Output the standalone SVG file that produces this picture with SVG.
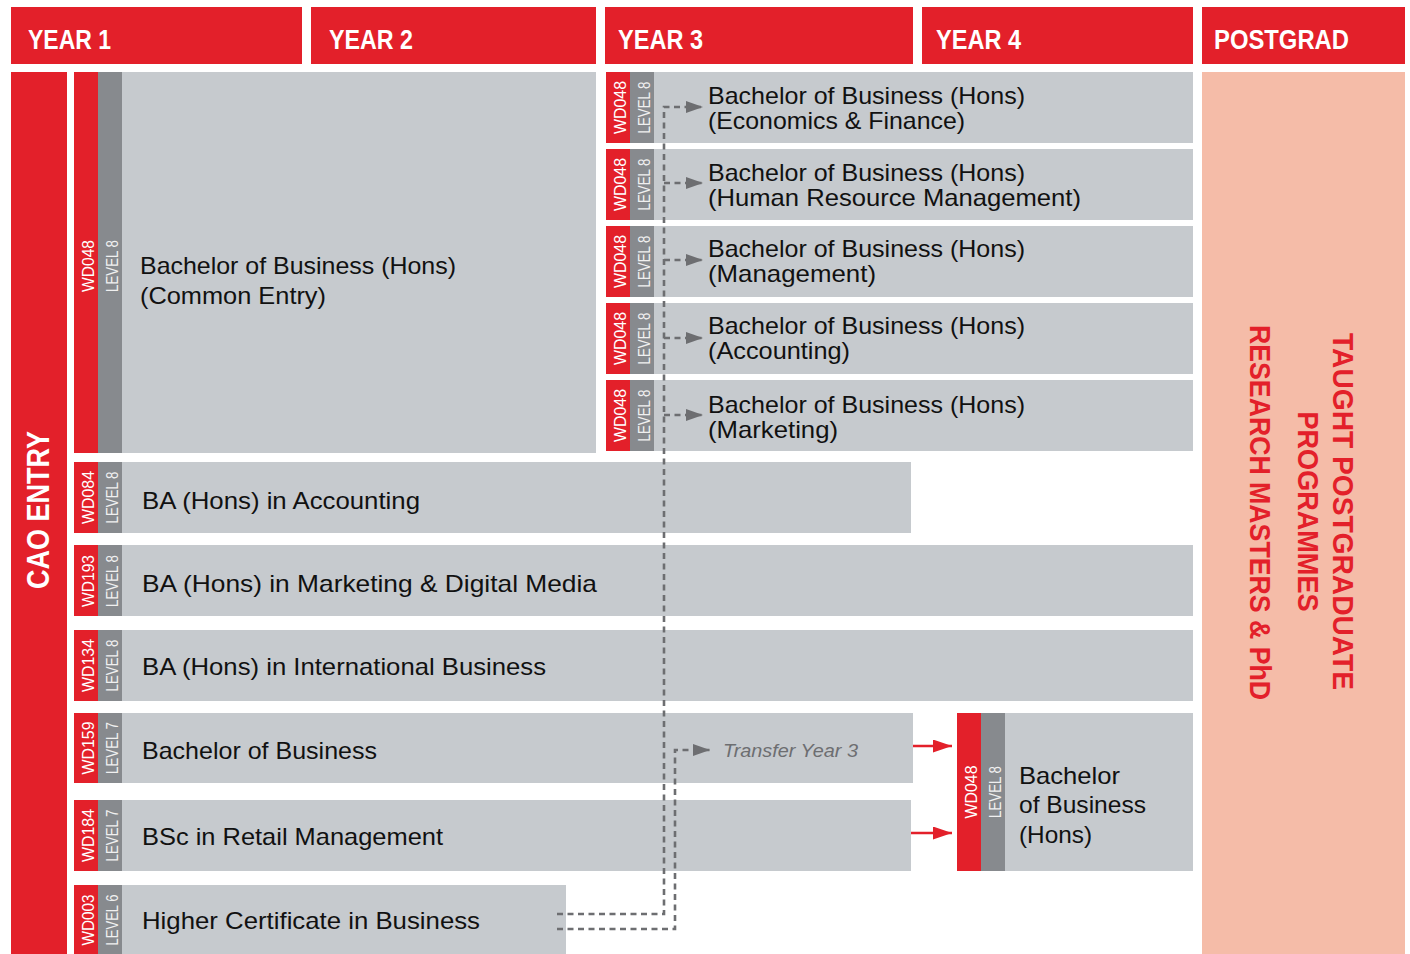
<svg xmlns="http://www.w3.org/2000/svg" width="1410" height="954" viewBox="0 0 1410 954">
  <style>
    .hdr { fill: #E3202A; }
    .hdr-t { font-family: "Liberation Sans", Arial, sans-serif; font-weight: bold; font-size: 27px; fill: #ffffff; }
    .red { fill: #E3202A; }
    .lvl { fill: #878A8E; }
    .body { fill: #C6CACE; }
    .pg { fill: #F5BCA8; }
    .code { font-family: "Liberation Sans", Arial, sans-serif; font-size: 16px; fill: #ffffff; text-anchor: middle; }
    .lvl-t { font-family: "Liberation Sans", Arial, sans-serif; font-size: 16px; fill: #F0F0F0; text-anchor: middle; }
    .t { font-family: "Liberation Sans", Arial, sans-serif; font-size: 24px; fill: #111111; }
    .side { font-family: "Liberation Sans", Arial, sans-serif; font-weight: bold; font-size: 31px; fill: #ffffff; text-anchor: middle; }
    .pg-t { font-family: "Liberation Sans", Arial, sans-serif; font-weight: bold; font-size: 30px; fill: #E3202A; text-anchor: middle; }
    .dash { fill: none; stroke: #6D6E71; stroke-width: 2.6; stroke-dasharray: 6 4.5; }
    .redline { fill: none; stroke: #E3202A; stroke-width: 2.5; }
    .note { font-family: "Liberation Sans", Arial, sans-serif; font-style: italic; font-size: 19px; fill: #6D6E71; }
  </style>
  <defs>
    <marker id="grayHead" markerUnits="userSpaceOnUse" markerWidth="17" markerHeight="12" refX="17" refY="6" orient="auto">
      <path d="M0,0 L17,6 L0,12 Z" fill="#6D6E71"/>
    </marker>
    <marker id="redHead" markerUnits="userSpaceOnUse" markerWidth="19" markerHeight="13" refX="19" refY="6.5" orient="auto">
      <path d="M0,0 L19,6.5 L0,13 Z" fill="#E3202A"/>
    </marker>
  </defs>

  <rect width="1410" height="954" fill="#ffffff"/>

  <!-- column headers -->
  <g id="headers">
    <rect class="hdr" x="11" y="7" width="291" height="57"/>
    <text class="hdr-t" x="28" y="49" textLength="83" lengthAdjust="spacingAndGlyphs">YEAR 1</text>
    <rect class="hdr" x="311" y="7" width="285" height="57"/>
    <text class="hdr-t" x="329" y="49" textLength="84" lengthAdjust="spacingAndGlyphs">YEAR 2</text>
    <rect class="hdr" x="605" y="7" width="308" height="57"/>
    <text class="hdr-t" x="618" y="49" textLength="85" lengthAdjust="spacingAndGlyphs">YEAR 3</text>
    <rect class="hdr" x="922" y="7" width="271" height="57"/>
    <text class="hdr-t" x="936" y="49" textLength="85" lengthAdjust="spacingAndGlyphs">YEAR 4</text>
    <rect class="hdr" x="1202" y="7" width="203" height="57"/>
    <text class="hdr-t" x="1214" y="49" textLength="135" lengthAdjust="spacingAndGlyphs">POSTGRAD</text>
  </g>

  <!-- CAO entry side bar -->
  <g id="cao-entry">
    <rect class="red" x="11" y="72" width="56" height="882"/>
    <text class="side" transform="translate(49,510) rotate(-90)" textLength="158" lengthAdjust="spacingAndGlyphs">CAO ENTRY</text>
  </g>

  <!-- postgraduate column -->
  <g id="postgrad">
    <rect class="pg" x="1202" y="72" width="203" height="882"/>
    <text class="pg-t" transform="translate(1333,511.5) rotate(90)" textLength="357" lengthAdjust="spacingAndGlyphs">TAUGHT POSTGRADUATE</text>
    <text class="pg-t" transform="translate(1298,511.5) rotate(90)" textLength="200" lengthAdjust="spacingAndGlyphs">PROGRAMMES</text>
    <text class="pg-t" transform="translate(1250,512.5) rotate(90)" textLength="375" lengthAdjust="spacingAndGlyphs">RESEARCH MASTERS &amp; PhD</text>
  </g>

  <!-- Year 1 common entry -->
  <g id="wd048-common">
    <rect class="red" x="74" y="72" width="24" height="381"/>
    <rect class="lvl" x="98" y="72" width="24" height="381"/>
    <rect class="body" x="122" y="72" width="474" height="381"/>
    <text class="code" transform="translate(93.5,266) rotate(-90)" textLength="52" lengthAdjust="spacingAndGlyphs">WD048</text>
    <text class="lvl-t" transform="translate(117.5,266) rotate(-90)" textLength="52" lengthAdjust="spacingAndGlyphs">LEVEL 8</text>
    <text class="t" x="140" y="274" textLength="316" lengthAdjust="spacingAndGlyphs">Bachelor of Business (Hons)</text>
    <text class="t" x="140" y="304" textLength="186" lengthAdjust="spacingAndGlyphs">(Common Entry)</text>
  </g>

  <!-- Year 3 specialisms -->
  <g id="wd048-economics">
    <rect class="red" x="606" y="72" width="24" height="71"/>
    <rect class="lvl" x="630" y="72" width="24" height="71"/>
    <rect class="body" x="654" y="72" width="539" height="71"/>
    <text class="code" transform="translate(625.5,107.5) rotate(-90)" textLength="53" lengthAdjust="spacingAndGlyphs">WD048</text>
    <text class="lvl-t" transform="translate(649.5,107.5) rotate(-90)" textLength="52" lengthAdjust="spacingAndGlyphs">LEVEL 8</text>
    <text class="t" x="708" y="104" textLength="317" lengthAdjust="spacingAndGlyphs">Bachelor of Business (Hons)</text>
    <text class="t" x="708" y="129" textLength="257" lengthAdjust="spacingAndGlyphs">(Economics &amp; Finance)</text>
  </g>

  <g id="wd048-hrm">
    <rect class="red" x="606" y="149" width="24" height="71"/>
    <rect class="lvl" x="630" y="149" width="24" height="71"/>
    <rect class="body" x="654" y="149" width="539" height="71"/>
    <text class="code" transform="translate(625.5,184.5) rotate(-90)" textLength="53" lengthAdjust="spacingAndGlyphs">WD048</text>
    <text class="lvl-t" transform="translate(649.5,184.5) rotate(-90)" textLength="52" lengthAdjust="spacingAndGlyphs">LEVEL 8</text>
    <text class="t" x="708" y="181" textLength="317" lengthAdjust="spacingAndGlyphs">Bachelor of Business (Hons)</text>
    <text class="t" x="708" y="206" textLength="373" lengthAdjust="spacingAndGlyphs">(Human Resource Management)</text>
  </g>

  <g id="wd048-management">
    <rect class="red" x="606" y="226" width="24" height="71"/>
    <rect class="lvl" x="630" y="226" width="24" height="71"/>
    <rect class="body" x="654" y="226" width="539" height="71"/>
    <text class="code" transform="translate(625.5,261.5) rotate(-90)" textLength="53" lengthAdjust="spacingAndGlyphs">WD048</text>
    <text class="lvl-t" transform="translate(649.5,261.5) rotate(-90)" textLength="52" lengthAdjust="spacingAndGlyphs">LEVEL 8</text>
    <text class="t" x="708" y="257" textLength="317" lengthAdjust="spacingAndGlyphs">Bachelor of Business (Hons)</text>
    <text class="t" x="708" y="282" textLength="168" lengthAdjust="spacingAndGlyphs">(Management)</text>
  </g>

  <g id="wd048-accounting">
    <rect class="red" x="606" y="303" width="24" height="71"/>
    <rect class="lvl" x="630" y="303" width="24" height="71"/>
    <rect class="body" x="654" y="303" width="539" height="71"/>
    <text class="code" transform="translate(625.5,338.5) rotate(-90)" textLength="53" lengthAdjust="spacingAndGlyphs">WD048</text>
    <text class="lvl-t" transform="translate(649.5,338.5) rotate(-90)" textLength="52" lengthAdjust="spacingAndGlyphs">LEVEL 8</text>
    <text class="t" x="708" y="334" textLength="317" lengthAdjust="spacingAndGlyphs">Bachelor of Business (Hons)</text>
    <text class="t" x="708" y="359" textLength="142" lengthAdjust="spacingAndGlyphs">(Accounting)</text>
  </g>

  <g id="wd048-marketing">
    <rect class="red" x="606" y="380" width="24" height="71"/>
    <rect class="lvl" x="630" y="380" width="24" height="71"/>
    <rect class="body" x="654" y="380" width="539" height="71"/>
    <text class="code" transform="translate(625.5,415.5) rotate(-90)" textLength="53" lengthAdjust="spacingAndGlyphs">WD048</text>
    <text class="lvl-t" transform="translate(649.5,415.5) rotate(-90)" textLength="52" lengthAdjust="spacingAndGlyphs">LEVEL 8</text>
    <text class="t" x="708" y="413" textLength="317" lengthAdjust="spacingAndGlyphs">Bachelor of Business (Hons)</text>
    <text class="t" x="708" y="438" textLength="130" lengthAdjust="spacingAndGlyphs">(Marketing)</text>
  </g>

  <!-- other CAO programmes -->
  <g id="wd084">
    <rect class="red" x="74" y="462" width="24" height="71"/>
    <rect class="lvl" x="98" y="462" width="24" height="71"/>
    <rect class="body" x="122" y="462" width="789" height="71"/>
    <text class="code" transform="translate(93.5,497.5) rotate(-90)" textLength="53" lengthAdjust="spacingAndGlyphs">WD084</text>
    <text class="lvl-t" transform="translate(117.5,497.5) rotate(-90)" textLength="52" lengthAdjust="spacingAndGlyphs">LEVEL 8</text>
    <text class="t" x="142" y="509" textLength="278" lengthAdjust="spacingAndGlyphs">BA (Hons) in Accounting</text>
  </g>

  <g id="wd193">
    <rect class="red" x="74" y="545" width="24" height="71"/>
    <rect class="lvl" x="98" y="545" width="24" height="71"/>
    <rect class="body" x="122" y="545" width="1071" height="71"/>
    <text class="code" transform="translate(93.5,581) rotate(-90)" textLength="52" lengthAdjust="spacingAndGlyphs">WD193</text>
    <text class="lvl-t" transform="translate(117.5,581) rotate(-90)" textLength="52" lengthAdjust="spacingAndGlyphs">LEVEL 8</text>
    <text class="t" x="142" y="592" textLength="455" lengthAdjust="spacingAndGlyphs">BA (Hons) in Marketing &amp; Digital Media</text>
  </g>

  <g id="wd134">
    <rect class="red" x="74" y="630" width="24" height="71"/>
    <rect class="lvl" x="98" y="630" width="24" height="71"/>
    <rect class="body" x="122" y="630" width="1071" height="71"/>
    <text class="code" transform="translate(93.5,665.5) rotate(-90)" textLength="53" lengthAdjust="spacingAndGlyphs">WD134</text>
    <text class="lvl-t" transform="translate(117.5,665.5) rotate(-90)" textLength="52" lengthAdjust="spacingAndGlyphs">LEVEL 8</text>
    <text class="t" x="142" y="675" textLength="404" lengthAdjust="spacingAndGlyphs">BA (Hons) in International Business</text>
  </g>

  <g id="wd159">
    <rect class="red" x="74" y="713" width="24" height="70"/>
    <rect class="lvl" x="98" y="713" width="24" height="70"/>
    <rect class="body" x="122" y="713" width="791" height="70"/>
    <text class="code" transform="translate(93.5,748) rotate(-90)" textLength="53" lengthAdjust="spacingAndGlyphs">WD159</text>
    <text class="lvl-t" transform="translate(117.5,748) rotate(-90)" textLength="52" lengthAdjust="spacingAndGlyphs">LEVEL 7</text>
    <text class="t" x="142" y="759" textLength="235" lengthAdjust="spacingAndGlyphs">Bachelor of Business</text>
  </g>

  <g id="wd184">
    <rect class="red" x="74" y="800" width="24" height="71"/>
    <rect class="lvl" x="98" y="800" width="24" height="71"/>
    <rect class="body" x="122" y="800" width="789" height="71"/>
    <text class="code" transform="translate(93.5,835.5) rotate(-90)" textLength="53" lengthAdjust="spacingAndGlyphs">WD184</text>
    <text class="lvl-t" transform="translate(117.5,835.5) rotate(-90)" textLength="52" lengthAdjust="spacingAndGlyphs">LEVEL 7</text>
    <text class="t" x="142" y="845" textLength="301" lengthAdjust="spacingAndGlyphs">BSc in Retail Management</text>
  </g>

  <g id="wd003">
    <rect class="red" x="74" y="885" width="24" height="69"/>
    <rect class="lvl" x="98" y="885" width="24" height="69"/>
    <rect class="body" x="122" y="885" width="444" height="69"/>
    <text class="code" transform="translate(93.5,920) rotate(-90)" textLength="51" lengthAdjust="spacingAndGlyphs">WD003</text>
    <text class="lvl-t" transform="translate(117.5,920) rotate(-90)" textLength="51" lengthAdjust="spacingAndGlyphs">LEVEL 6</text>
    <text class="t" x="142" y="929" textLength="338" lengthAdjust="spacingAndGlyphs">Higher Certificate in Business</text>
  </g>

  <!-- Year 4 entry point for level 7 graduates -->
  <g id="wd048-year4">
    <rect class="red" x="957" y="713" width="24" height="158"/>
    <rect class="lvl" x="981" y="713" width="24" height="158"/>
    <rect class="body" x="1005" y="713" width="188" height="158"/>
    <text class="code" transform="translate(976.5,792) rotate(-90)" textLength="53" lengthAdjust="spacingAndGlyphs">WD048</text>
    <text class="lvl-t" transform="translate(1000.5,792) rotate(-90)" textLength="52" lengthAdjust="spacingAndGlyphs">LEVEL 8</text>
    <text class="t" x="1019" y="784" textLength="101" lengthAdjust="spacingAndGlyphs">Bachelor</text>
    <text class="t" x="1019" y="813" textLength="127" lengthAdjust="spacingAndGlyphs">of Business</text>
    <text class="t" x="1019" y="843" textLength="73" lengthAdjust="spacingAndGlyphs">(Hons)</text>
  </g>

  <!-- progression routes -->
  <g id="connectors">
    <path class="dash" d="M557,914 H664 V107 H703" marker-end="url(#grayHead)"/>
    <path class="dash" d="M664,183 H703" marker-end="url(#grayHead)"/>
    <path class="dash" d="M664,260 H703" marker-end="url(#grayHead)"/>
    <path class="dash" d="M664,338 H703" marker-end="url(#grayHead)"/>
    <path class="dash" d="M664,415 H703" marker-end="url(#grayHead)"/>
    <path class="dash" d="M557,929 H675 V750 H710" marker-end="url(#grayHead)"/>
    <text class="note" x="723" y="757" textLength="135" lengthAdjust="spacingAndGlyphs">Transfer Year 3</text>
    <path class="redline" d="M913,746 H952" marker-end="url(#redHead)"/>
    <path class="redline" d="M911,833 H952" marker-end="url(#redHead)"/>
  </g>
</svg>
